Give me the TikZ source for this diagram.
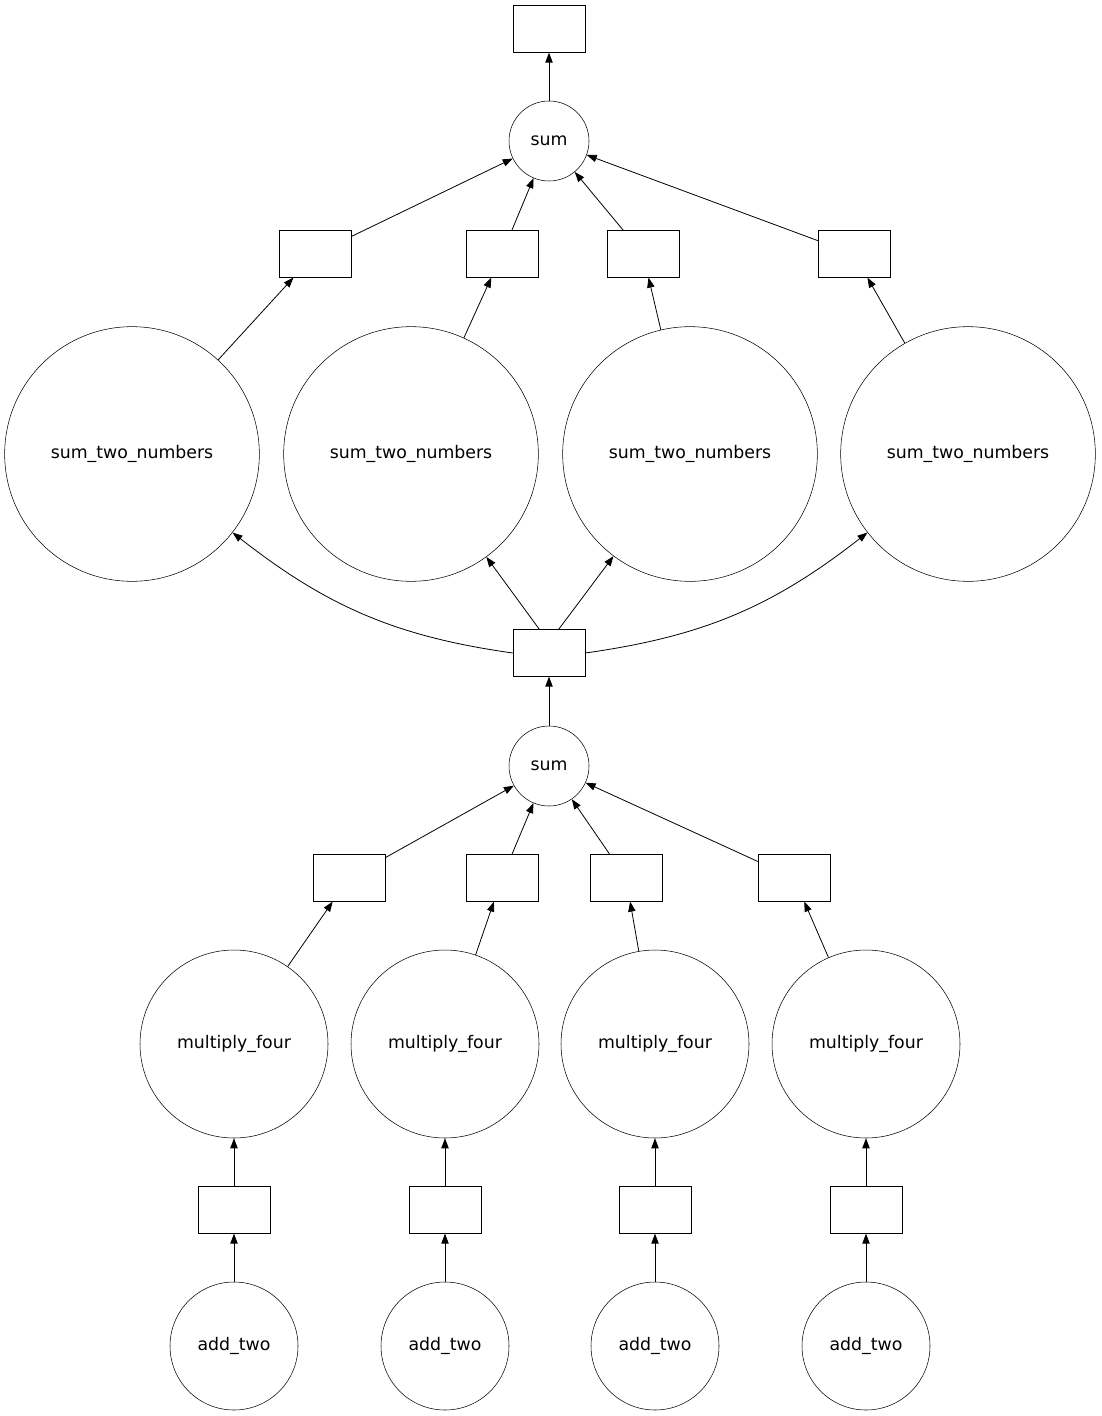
\documentclass[tikz,border=0pt]{standalone}
\usepackage{fontspec}
\setmainfont{DejaVu Sans}
\usetikzlibrary{arrows.meta}
\tikzset{
  task/.style={draw,circle,inner sep=0pt,font=\fontsize{13pt}{15pt}\selectfont},
  result/.style={draw,rectangle,minimum width=54pt,minimum height=35pt,inner sep=0pt},
  dep/.style={-{Triangle[length=7.5pt,width=5.5pt]},line width=0.6pt}
}
\begin{document}
\begin{tikzpicture}[x=0.75pt,y=-0.75pt]
  \useasboundingbox (0,0) rectangle (1101,1416);

  %%%% top of the graph
  \node[result] (out) at (549,29) {};
  \node[task,minimum size=60pt] (sumA) at (549,141) {sum};
  \draw[dep] (sumA) -- (out);

  \foreach \i/\rx/\cx in {1/315/132,2/502/411,3/643/690,4/854/968}
   {\node[result] (ra\i) at (\rx,254) {};
    \node[task,minimum size=191pt] (stn\i) at (\cx,454) {sum\_two\_numbers};
    \draw[dep] (ra\i) -- (sumA);
    \draw[dep] (stn\i) -- (ra\i);
   };

  %%%% middle
  \node[result] (mid) at (549,653) {};
  \node[task,minimum size=60pt] (sumB) at (549,766) {sum};
  \draw[dep] (sumB) -- (mid);
  \draw[dep] (mid.west) to[out=172,in=-38] (stn1);
  \draw[dep] (mid.east) to[out=8,in=-142] (stn4);
  \draw[dep] (mid.north west) ++(20pt,0) -- (stn2);
  \draw[dep] (mid.north east) ++(-20pt,0) -- (stn3);

  %%%% bottom
  \foreach \i/\rx/\cx in {1/349/234,2/502/445,3/626/655,4/794/866}
   {\node[result] (rb\i) at (\rx,878) {};
    \node[task,minimum size=141pt] (mf\i) at (\cx,1044) {multiply\_four};
    \node[result] (rc\i) at (\cx,1210) {};
    \node[task,minimum size=96pt] (at\i) at (\cx,1346) {add\_two};
    \draw[dep] (rb\i) -- (sumB);
    \draw[dep] (mf\i) -- (rb\i);
    \draw[dep] (rc\i) -- (mf\i);
    \draw[dep] (at\i) -- (rc\i);
   };
\end{tikzpicture}
\end{document}
